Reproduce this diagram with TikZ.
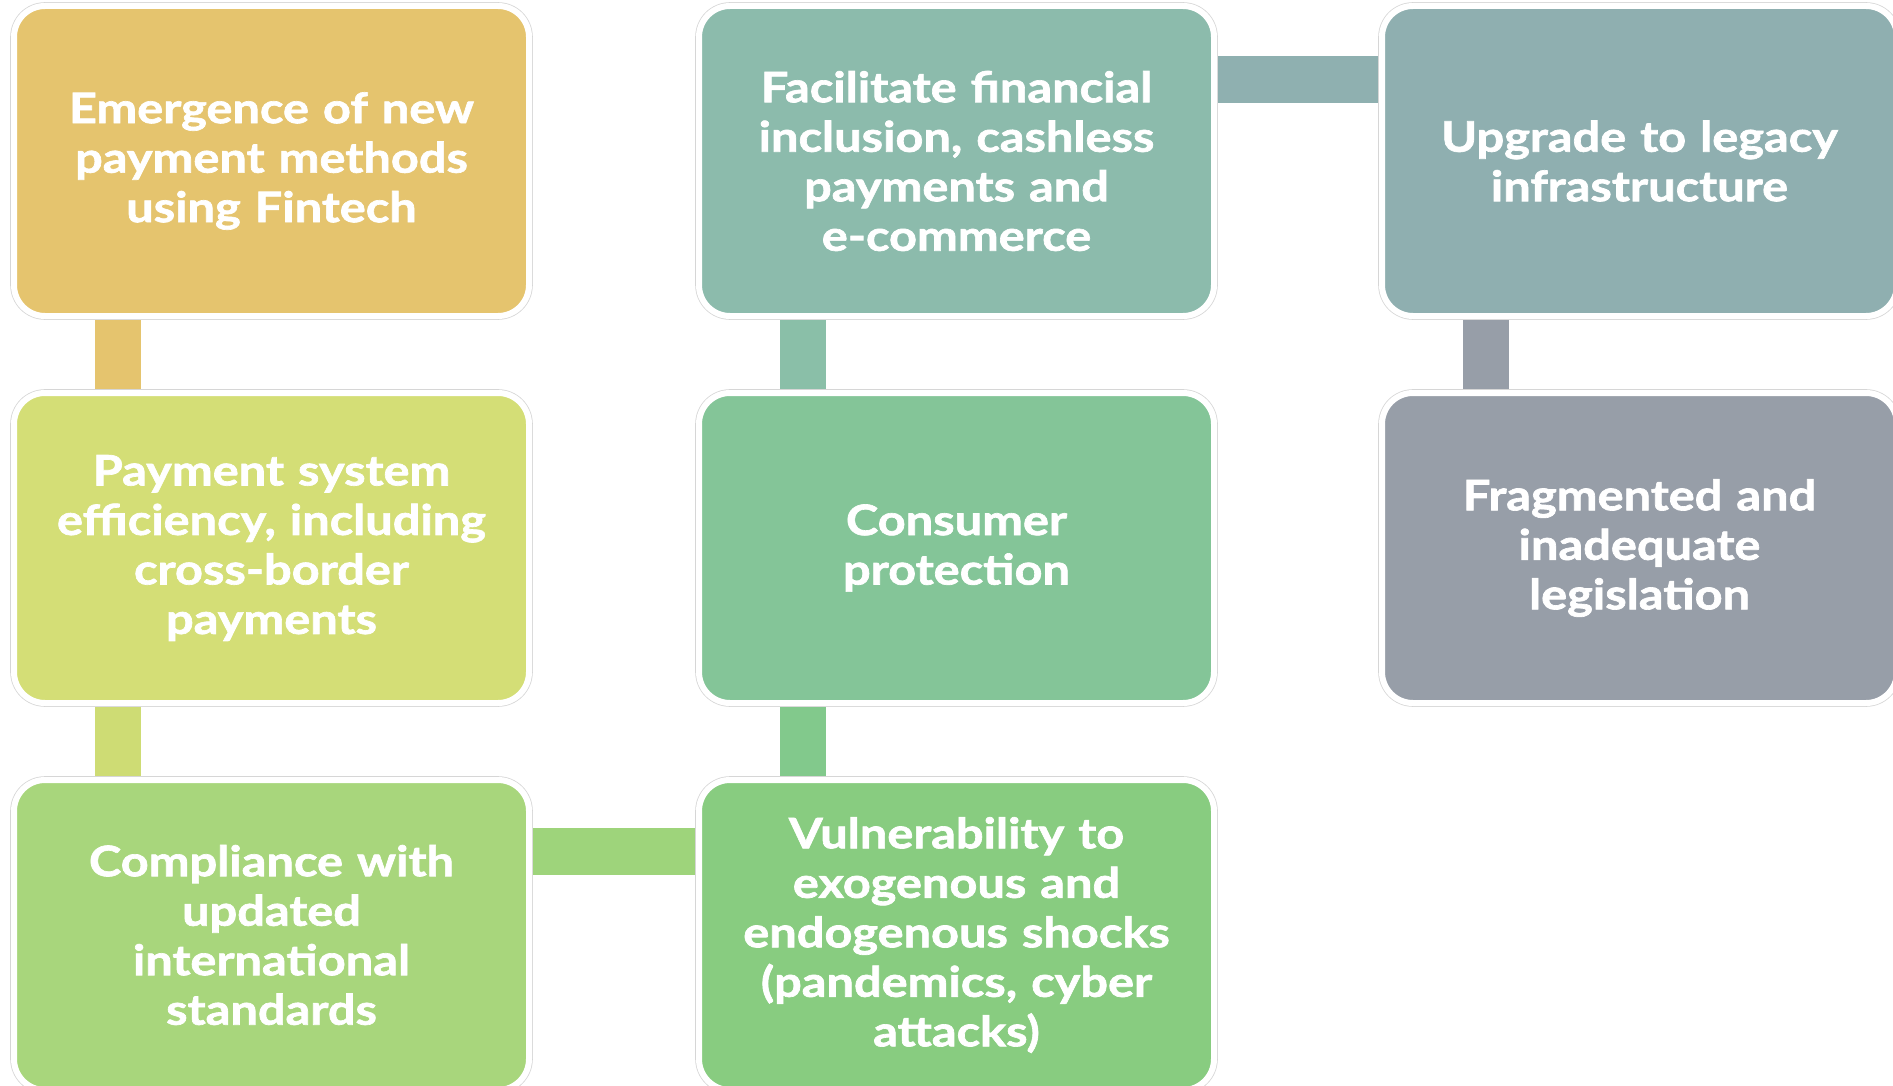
\documentclass[tikz,border=0pt]{standalone}
\usepackage{fontspec}
\newfontfamily\boxfont{Lato}[FakeStretch=1.16, FakeBold=1.6]
\usetikzlibrary{backgrounds}
\definecolor{cA}{RGB}{229,196,110}
\definecolor{cB}{RGB}{212,222,118}
\definecolor{cC}{RGB}{168,214,124}
\definecolor{cD}{RGB}{136,204,128}
\definecolor{cE}{RGB}{132,197,152}
\definecolor{cF}{RGB}{140,187,172}
\definecolor{cG}{RGB}{143,175,176}
\definecolor{cH}{RGB}{151,158,168}
\definecolor{kAB}{RGB}{229,196,110}
\definecolor{kBC}{RGB}{206,220,116}
\definecolor{kCD}{RGB}{158,212,123}
\definecolor{kDE}{RGB}{130,201,140}
\definecolor{kEF}{RGB}{138,191,168}
\definecolor{kFG}{RGB}{143,176,176}
\definecolor{kGH}{RGB}{151,158,168}
\tikzset{
  stepbox/.style={rectangle, rounded corners=31pt, minimum width=515pt, minimum height=310pt,
    inner sep=0pt, text width=490pt, align=center, text=white,
    font=\boxfont\bfseries\fontsize{42}{49.5}\selectfont,
    preaction={draw=black!16, line width=7.6pt},
    draw=white, line width=6pt},
  conn/.style={line width=46pt, draw=#1}
}
\begin{document}
\begin{tikzpicture}[x=1pt,y=-1pt]
\useasboundingbox (0,0) rectangle (1893,1086);
\node[stepbox, fill=cA] (n1) at (271.5,161) {Emergence of new\\payment methods\\using Fintech};
\node[stepbox, fill=cB] (n2) at (271.5,548) {Payment system\\efficiency, including\\cross-border\\payments};
\node[stepbox, fill=cC] (n3) at (271.5,935) {Compliance with\\updated\\international\\standards};
\node[stepbox, fill=cD] (n4) at (956.5,935) {Vulnerability to\\exogenous and\\endogenous shocks\\(pandemics, cyber\\attacks)};
\node[stepbox, fill=cE] (n5) at (956.5,548) {Consumer\\protection};
\node[stepbox, fill=cF] (n6) at (956.5,161) {Facilitate financial\\inclusion, cashless\\payments and\\e-commerce};
\node[stepbox, fill=cG] (n7) at (1639.5,161) {Upgrade to legacy\\infrastructure};
\node[stepbox, fill=cH] (n8) at (1639.5,548) {Fragmented and\\inadequate\\legislation};
\begin{scope}[on background layer]
\draw[conn=kAB] ([xshift=107pt]n1.south west) -- ([xshift=107pt]n2.north west);
\draw[conn=kBC] ([xshift=107pt]n2.south west) -- ([xshift=107pt]n3.north west);
\draw[conn=kCD, line width=47pt] ([yshift=-74.5pt]n3.north east) -- ([yshift=-74.5pt]n4.north west);
\draw[conn=kDE] ([xshift=107pt]n4.north west) -- ([xshift=107pt]n5.south west);
\draw[conn=kEF] ([xshift=107pt]n5.north west) -- ([xshift=107pt]n6.south west);
\draw[conn=kFG, line width=47pt] ([yshift=-76.5pt]n6.north east) -- ([yshift=-76.5pt]n7.north west);
\draw[conn=kGH] ([xshift=107pt]n7.south west) -- ([xshift=107pt]n8.north west);
\end{scope}
\end{tikzpicture}
\end{document}
